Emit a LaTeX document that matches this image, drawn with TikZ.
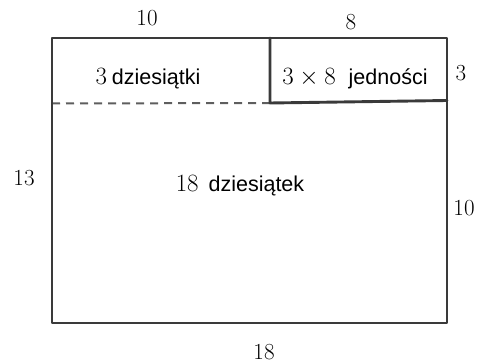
\documentclass[tikz,border=0pt]{standalone}
\usepackage{fontspec}
\newfontfamily\wordfont{Liberation Sans}
\definecolor{edge}{HTML}{3A3A3A}
\definecolor{dash}{HTML}{5E5E5E}
\tikzset{
  side/.style={draw=edge, line width=2.9pt, line cap=round, line join=round},
  split/.style={draw=dash, line width=2pt, dash pattern=on 8pt off 6pt},
  num/.style={inner sep=0pt, font=\fontsize{23}{26}\selectfont},
  area/.style={inner sep=0pt, anchor=base, font=\fontsize{23}{26}\selectfont},
}
\newcommand{\plword}[1]{{\wordfont\fontsize{21.5}{24}\selectfont #1}}
\begin{document}
\begin{tikzpicture}[x=1pt, y=-1pt]
\useasboundingbox (0,0) rectangle (478,363);
% corners of the whole rectangle and of the split
\coordinate (tl) at (52,38);
\coordinate (tr) at (447,38);
\coordinate (br) at (447,323);
\coordinate (bl) at (52,323);
\coordinate (tm) at (270,38);
\coordinate (mm) at (270,103);
\coordinate (mr) at (447,100.5);
\coordinate (ml) at (52,103.5);
% dashed line between the tens strips
\draw[split] (ml) -- (mm);
% outline
\draw[side] (tl) -- (tr) -- (br) -- (bl) -- cycle;
% the 3 x 8 units box
\draw[side] (tm) -- (mm) -- (mr);
% side lengths
\node[num] (n10top) at (147,18.5) {10};
\node[num] (n8) at (351,22) {8};
\node[num] (n3) at (461,73) {3};
\node[num] (n13) at (24,178.5) {13};
\node[num] (n10right) at (464,208.5) {10};
\node[num] (n18) at (264,352) {18};
% area labels
\node[area] (a1) at (148,85) {$3$\hspace{5pt}\plword{dziesiątki}};
\node[area] (a2) at (355,85) {$3\times8$\hspace{13pt}\plword{jedności}};
\node[area] (a3) at (240,192) {$18$\hspace{10pt}\plword{dziesiątek}};
\end{tikzpicture}
\end{document}
